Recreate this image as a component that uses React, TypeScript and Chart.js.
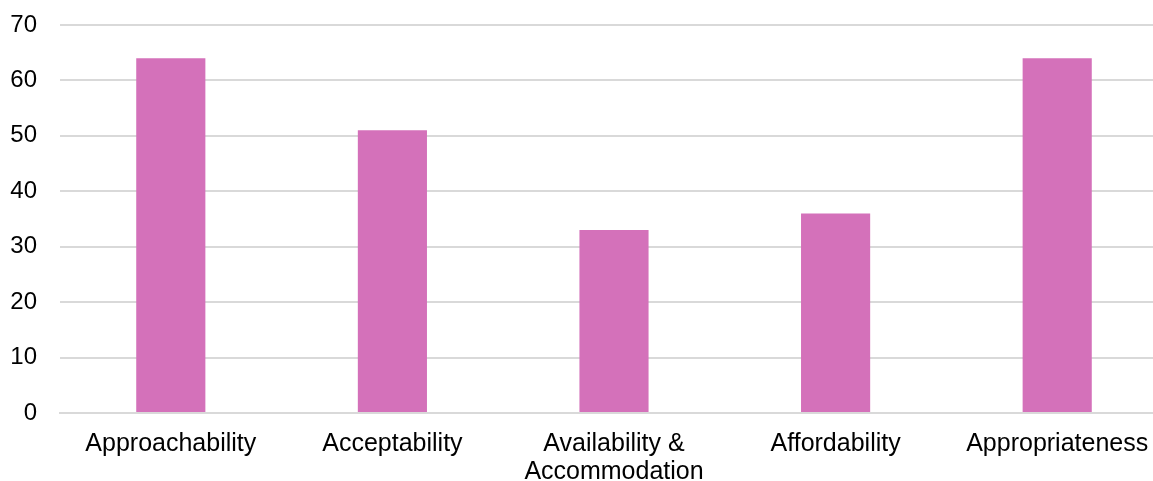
import React, { useEffect, useRef } from "react";
import { Chart, registerables } from "chart.js";

Chart.register(...registerables);

const categories: (string | string[])[] = [
  "Approachability",
  "Acceptability",
  ["Availability &", "Accommodation"],
  "Affordability",
  "Appropriateness",
];
const values = [64, 51, 33, 36, 64];
const yTicks = [0, 10, 20, 30, 40, 50, 60, 70];

const FONT = "Liberation Sans, Arial, sans-serif";

export default function App() {
  const ref = useRef<HTMLCanvasElement>(null);
  useEffect(() => {
    if (!ref.current) return;
    const chart = new Chart(ref.current, {
      type: "bar",
      data: {
        labels: categories,
        datasets: [
          {
            data: values,
            backgroundColor: "#D471BA",
            borderWidth: 0,
            categoryPercentage: 1,
            barPercentage: 0.312,
          },
        ],
      },
      options: {
        animation: false,
        responsive: true,
        maintainAspectRatio: false,
        layout: { padding: { left: 0, right: 0, top: 25, bottom: 2 } },
        plugins: { legend: { display: false }, tooltip: { enabled: false } },
        scales: {
          x: {
            grid: { display: false },
            border: { color: "#D9D9D9", width: 2 },
            afterFit: (axis: any) => {
              axis.height = 66;
              axis.paddingLeft = 0;
              axis.paddingRight = 0;
            },
            ticks: {
              color: "#000000",
              font: { family: FONT, size: 25, lineHeight: 1.12 },
              padding: 9,
              maxRotation: 0,
              autoSkip: false,
            },
          },
          y: {
            min: 0,
            max: 70,
            afterBuildTicks: (axis: any) => {
              axis.ticks = yTicks.map((v) => ({ value: v }));
            },
            afterFit: (axis: any) => {
              axis.width = 60;
              axis.paddingTop = 0;
              axis.paddingBottom = 0;
            },
            grid: { color: "#D9D9D9", lineWidth: 2, drawTicks: false },
            border: { display: false },
            ticks: {
              color: "#000000",
              font: { family: FONT, size: 24 },
              padding: 23,
            },
          },
        },
      },
    });
    return () => chart.destroy();
  }, []);
  return (
    <div style={{ position: "fixed", left: 0, top: 0, width: 1153, height: 481, overflow: "hidden", background: "#fff" }}>
      <div style={{ position: "relative", width: 1168, height: 481 }}>
        <canvas ref={ref} />
      </div>
    </div>
  );
}
